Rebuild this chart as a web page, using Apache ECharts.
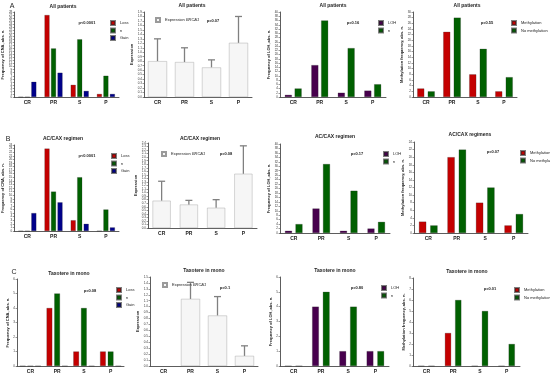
<!DOCTYPE html>
<html><head><meta charset="utf-8">
<script src="https://cdn.jsdelivr.net/npm/echarts@6/dist/echarts.min.js"></script>
<style>html,body{margin:0;padding:0;background:#fff}#c{width:550px;height:375px}</style>
</head><body><div id="c"></div>
<script>
const categories = ['CR','PR','S','P'];
// Row A: All patients
const cnaAllLoss = [0,27,4,1];
const cnaAllN    = [0,16,19,7];
const cnaAllGain = [5,8,2,1];
const expAllMean = [0.80,0.78,0.66,1.21];
const expAllErr  = [1.30,1.10,0.83,1.80];
const lohAllLoh  = [1,15,2,3];
const lohAllN    = [4,36,23,6];
const methAllYes = [3,23,8,2];
const methAllNo  = [2,28,17,7];
// Row B: AC/CAX regimen
const cnaAcLoss = [0,23,3,0];
const cnaAcN    = [0,11,15,6];
const cnaAcGain = [5,8,2,1];
const expAcMean = [0.77,0.66,0.57,1.53];
const expAcErr  = [1.32,0.78,0.80,2.32];
const lohAcLoh  = [1,11,1,2];
const lohAcN    = [4,31,19,5];
const methAcYes = [3,20,8,2];
const methAcNo  = [2,22,12,5];
// Row C: Taxotere in mono
const cnaTxLoss = [0,4,1,1];
const cnaTxN    = [0,5,4,1];
const cnaTxGain = [0,0,0,0];
const expTxMean = [null,1.13,0.85,0.17];
const expTxErr  = [null,1.41,1.17,0.34];
const lohTxLoh  = [0,4,1,1];
const lohTxN    = [0,5,4,1];
const methTxYes = [0,3,0,0];
const methTxNo  = [0,6,5,2];

const RED='#c40000', GREEN='#006000', NAVY='#00008a', PURPLE='#47004d', LIGHT='#f6f6f6';
const grids=[], xAxes=[], yAxes=[], series=[], legends=[], graphics=[];

function addPanel(cfg){
  const i = grids.length;
  grids.push({left:cfg.g[0], top:cfg.g[1], width:cfg.g[2], height:cfg.g[3]});
  xAxes.push({type:'category', gridIndex:i, data:categories,
    axisLine:{lineStyle:{color:'#333',width:0.8}}, axisTick:{show:false},
    axisLabel:{fontSize:5, fontWeight:'bold', color:'#222', margin:3}});
  yAxes.push({type:'value', gridIndex:i, min:0, max:cfg.max, interval:cfg.step,
    name:cfg.yname, nameLocation:'middle', nameGap:cfg.nameGap,
    nameTextStyle:{fontSize:4, fontWeight:'bold', color:'#222'},
    axisLine:{show:true, lineStyle:{color:'#333',width:0.8}},
    axisTick:{show:true, length:1.5, lineStyle:{color:'#333',width:0.5}},
    splitLine:{show:false},
    axisLabel:{fontSize:3, color:'#333', margin:2, formatter:cfg.fmt || (v=>String(v))}});
  cfg.series.forEach(s=>{
    series.push({type:'bar', name:s.name, xAxisIndex:i, yAxisIndex:i, data:s.data,
      barWidth:cfg.bw, barGap:cfg.gap, silent:true, z:3,
      itemStyle:{color:s.color, borderColor:s.border||'rgba(40,40,40,0.6)', borderWidth:0.4}});
  });
  if (cfg.err) {
    const d = [];
    cfg.err.forEach((e,k)=>{ if (e!=null) d.push([k, e, cfg.series[0].data[k]]); });
    series.push({type:'custom', xAxisIndex:i, yAxisIndex:i, data:d, silent:true, z:2,
      renderItem:(params, api)=>{
        const x = api.value(0);
        const hi = api.coord([x, api.value(1)]);
        const lo = api.coord([x, api.value(2)]);
        const hw = 3.5;
        return {type:'group', children:[
          {type:'line', shape:{x1:hi[0],y1:hi[1],x2:lo[0],y2:lo[1]}, style:{stroke:'#808080',lineWidth:1.3}},
          {type:'line', shape:{x1:hi[0]-hw,y1:hi[1],x2:hi[0]+hw,y2:hi[1]}, style:{stroke:'#808080',lineWidth:1.3}}
        ]};
      }});
  }
  legends.push({left:cfg.leg[0], top:cfg.leg[1], orient:'vertical', icon:'rect', itemWidth:4, itemHeight:4, itemGap:1.5,
    selectedMode:false, data:cfg.series.map(s=>s.name),
    formatter: n => n==='Expression BRCA1' ? '{a|Expression }{b|BRCA1}' : n,
    textStyle:{fontSize:4, color:'#222', rich:{a:{fontSize:4,color:'#222'}, b:{fontSize:4,color:'#222',fontStyle:'italic'}}}});
  graphics.push({type:'text', x:cfg.title[0], y:cfg.title[1],
    style:{text:cfg.title[2], font:'bold 5px Arial', fill:'#222', textAlign:'center', textVerticalAlign:'middle'}});
  graphics.push({type:'text', x:cfg.p[0], y:cfg.p[1],
    style:{text:cfg.p[2], font:'bold 4px Arial', fill:'#222', textAlign:'center', textVerticalAlign:'middle'}});
}

const expFmt = v => v.toFixed(1);
const cnaName = 'Frequency of CNA, abs. n.';
const lohName = 'Frequency of LOH, abs. n.';
const methName = 'Methylation frequency, abs. n.';

// Row A
addPanel({g:[14,12,105,85], max:28, step:1, yname:cnaName, nameGap:7, bw:5, gap:'30%',
  series:[{name:'Loss',data:cnaAllLoss,color:RED},{name:'n',data:cnaAllN,color:GREEN},{name:'Gain',data:cnaAllGain,color:NAVY}],
  leg:[105,15], title:[63,7,'All patients'], p:[87,23,'p<0.0001']});
addPanel({g:[144,12,108,85], max:1.9, step:0.1, fmt:expFmt, yname:'Expression', nameGap:8, bw:19, gap:'0%',
  series:[{name:'Expression BRCA1',data:expAllMean,color:LIGHT,border:'#9a9a9a'}], err:expAllErr,
  leg:[150,12], title:[192,6,'All patients'], p:[213,21,'p=0.07']});
addPanel({g:[280,12,106,85], max:40, step:2, yname:lohName, nameGap:7, bw:7, gap:'40%',
  series:[{name:'LOH',data:lohAllLoh,color:PURPLE},{name:'n',data:lohAllN,color:GREEN}],
  leg:[373,15], title:[333,6,'All patients'], p:[353,23,'p=0.16']});
addPanel({g:[413,12,104,85], max:30, step:2, yname:methName, nameGap:7, bw:7, gap:'50%',
  series:[{name:'Methylation',data:methAllYes,color:RED},{name:'No methylation',data:methAllNo,color:GREEN}],
  leg:[506,15], title:[467,6,'All patients'], p:[487,23,'p=0.55']});
// Row B
addPanel({g:[14,145,105,86], max:24, step:1, yname:cnaName, nameGap:7, bw:5, gap:'30%',
  series:[{name:'Loss',data:cnaAcLoss,color:RED},{name:'n',data:cnaAcN,color:GREEN},{name:'Gain',data:cnaAcGain,color:NAVY}],
  leg:[106,148], title:[63,139,'AC/CAX regimen'], p:[87,156,'p<0.0001']});
addPanel({g:[148,143,109,85], max:2.4, step:0.1, fmt:expFmt, yname:'Expression', nameGap:8, bw:18, gap:'0%',
  series:[{name:'Expression BRCA1',data:expAcMean,color:LIGHT,border:'#9a9a9a'}], err:expAcErr,
  leg:[156,146], title:[200,139,'AC/CAX regimen'], p:[226,154,'p=0.08']});
addPanel({g:[280,144,110,89], max:40, step:2, yname:lohName, nameGap:7, bw:7, gap:'50%',
  series:[{name:'LOH',data:lohAcLoh,color:PURPLE},{name:'n',data:lohAcN,color:GREEN}],
  leg:[378,146], title:[335,137,'AC/CAX regimen'], p:[357,154,'p=0.17']});
addPanel({g:[414,142,114,91], max:24, step:2, yname:methName, nameGap:7, bw:7.3, gap:'55%',
  series:[{name:'Methylation',data:methAcYes,color:RED},{name:'No methylation',data:methAcNo,color:GREEN}],
  leg:[515,145], title:[470,135,'AC/CAX regimens'], p:[493,152,'p=0.07']});
// Row C
addPanel({g:[17,279,107,87], max:6, step:1, yname:cnaName, nameGap:6, bw:5.7, gap:'35%',
  series:[{name:'Loss',data:cnaTxLoss,color:RED},{name:'n',data:cnaTxN,color:GREEN},{name:'Gain',data:cnaTxGain,color:NAVY}],
  leg:[111,282], title:[69,274,'Taxotere in mono'], p:[90,291,'p=0.08']});
addPanel({g:[150,277,108,89], max:1.5, step:0.1, fmt:expFmt, yname:'Expression', nameGap:8, bw:19, gap:'0%',
  series:[{name:'Expression BRCA1',data:expTxMean,color:LIGHT,border:'#9a9a9a'}], err:expTxErr,
  leg:[157,277], title:[204,271,'Taxotere in mono'], p:[225,288,'p=0.1']});
addPanel({g:[280,277,109,89], max:6, step:1, yname:lohName, nameGap:6, bw:6.7, gap:'60%',
  series:[{name:'LOH',data:lohTxLoh,color:PURPLE},{name:'n',data:lohTxN,color:GREEN}],
  leg:[376,280], title:[335,271,'Taxotere in mono'], p:[357,288,'p=0.80']});
addPanel({g:[413,278,107,88], max:8, step:1, yname:methName, nameGap:6, bw:6.2, gap:'65%',
  series:[{name:'Methylation',data:methTxYes,color:RED},{name:'No methylation',data:methTxNo,color:GREEN}],
  leg:[509,282], title:[467,272,'Taxotere in mono'], p:[490,289,'p=0.01']});

// panel letters
graphics.push({type:'text', x:12, y:6, style:{text:'A', font:'7px Arial', fill:'#222', textAlign:'center', textVerticalAlign:'middle'}});
graphics.push({type:'text', x:8, y:139, style:{text:'B', font:'7px Arial', fill:'#222', textAlign:'center', textVerticalAlign:'middle'}});
graphics.push({type:'text', x:14, y:272, style:{text:'C', font:'7px Arial', fill:'#222', textAlign:'center', textVerticalAlign:'middle'}});

const chart = echarts.init(document.getElementById('c'), null, {renderer:'canvas'});
chart.setOption({animation:false, backgroundColor:'#fff', tooltip:{show:false},
  grid:grids, xAxis:xAxes, yAxis:yAxes, series:series, legend:legends, graphic:graphics});
</script></body></html>
